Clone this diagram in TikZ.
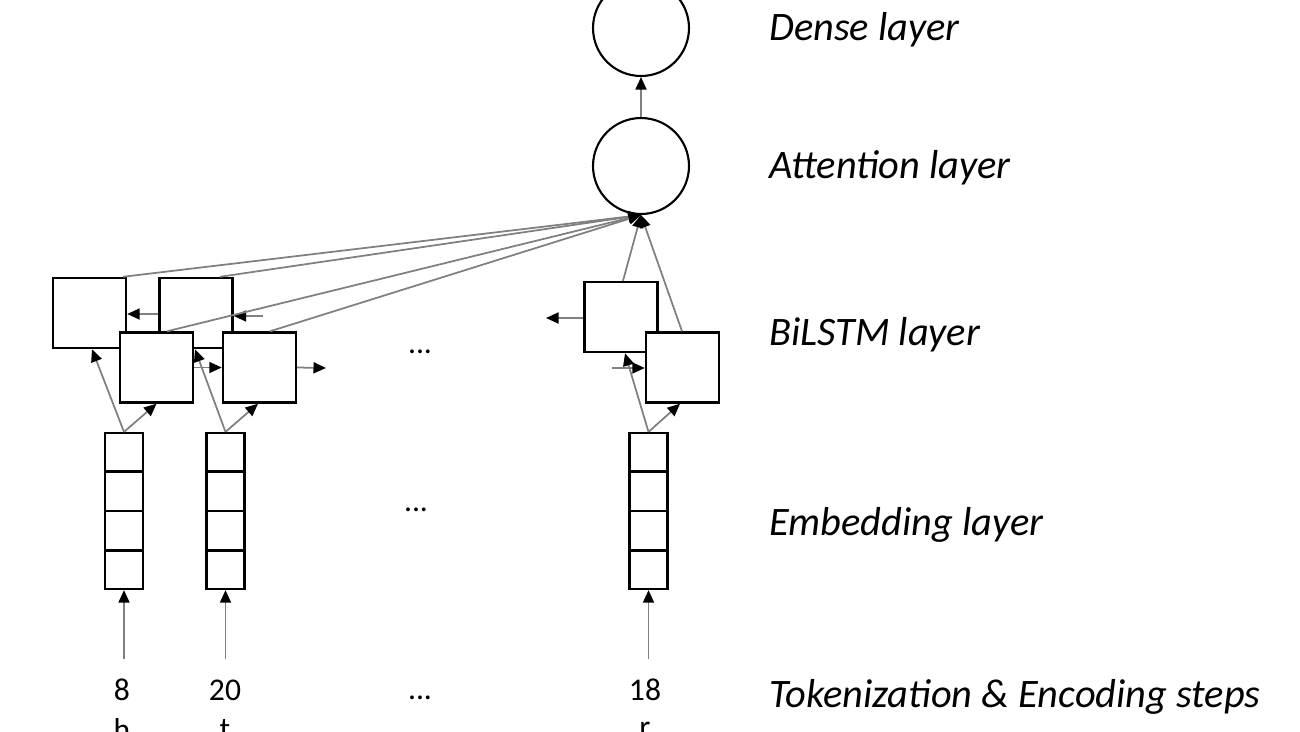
\documentclass[tikz,border=0pt]{standalone}
\usepackage{fontspec}
\setmainfont{Carlito}
\usetikzlibrary{calc,arrows.meta}
\newcommand{\cellh}{0.78cm}
% embedding column: name, x
\newcommand{\embcol}[2]{\node[embbox] (#1) at (#2,511) {};
    \foreach \k in {1,2,3} \draw[line width=1.3pt] ($(#1.north west)!\k/4!(#1.south west)$) -- ($(#1.north east)!\k/4!(#1.south east)$);}
\tikzset{
  cell/.style={draw=black,line width=1.4pt,fill=white,minimum width=1.46cm,minimum height=1.40cm,inner sep=0pt},
  embbox/.style={draw=black,line width=1.3pt,minimum width=0.76cm,minimum height=4*\cellh,inner sep=0pt},
  neuron/.style={circle,draw=black,line width=1.2pt,minimum size=1.92cm,inner sep=0pt},
  conn/.style={gray,line width=1pt,-{Triangle[length=2.5mm,width=2.2mm,black]}},
  layername/.style={anchor=west,font=\fontsize{23}{26}\selectfont\itshape},
  token/.style={font=\fontsize{18}{20}\selectfont}
}
\begin{document}
\begin{tikzpicture}[x=0.02cm,y=-0.02cm]
    \useasboundingbox (0,0) rectangle (1300,731);
    \clip (0,0) rectangle (1300,731);

    % dense and attention
    \node[neuron] (dense) at (641,28) {};
    \node[neuron] (att) at (641,166) {};
    \draw[conn] (att.north) -- (dense.south);

    % BiLSTM cells
    \node[cell] (bw1) at (89.5,313) {};
    \node[cell] (bw2) at (196,313) {};
    \node[cell] (fw1) at (156.5,367.5) {};
    \node[cell] (fw2) at (259.5,367.5) {};
    \node[cell] (bw3) at (621,317) {};
    \node[cell] (fw3) at (682.5,367.5) {};

    % recurrent arrows
    \coordinate (bwin) at (263,316);
    \coordinate (fwout) at (326,368);
    \coordinate (bwout) at (546,318);
    \coordinate (fwin) at (612,368);
    \draw[conn] (bw2.west |- 0,314) -- (bw1.east |- 0,314);
    \draw[conn] (bwin) -- (bw2.east |- bwin);
    \draw[conn] (fw1.east) -- (fw2.west);
    \draw[conn] (fw2.east) -- (fwout);
    \draw[conn] (bw3.west |- bwout) -- (bwout);
    \draw[conn] (fwin) -- (fw3.west |- fwin);

    % embedding columns
    \embcol{emb1}{124}
    \embcol{emb2}{225.5}
    \embcol{emb3}{648.5}

    \draw[conn] (emb1.north) -- (bw1.south -| 92,0);
    \draw[conn] (emb1.north) -- (fw1.south);
    \draw[conn] (emb2.north) -- (bw2.south -| 195,0);
    \draw[conn] (emb2.north) -- (fw2.south -| 258,0);
    \draw[conn] (emb3.north) -- (bw3.south -| 625,0);
    \draw[conn] (emb3.north) -- (fw3.south -| 680,0);

    % to attention
    \draw[conn] (bw1.north -| 123,0) -- (att.south);
    \draw[conn] (bw2.north -| 220,0) -- (att.south);
    \draw[conn] (fw1.north -| 167,0) -- (att.south);
    \draw[conn] (fw2.north -| 270,0) -- (att.south);
    \draw[conn] (bw3.north -| 623,0) -- (att.south);
    \draw[conn] (fw3.north -| 682,0) -- (att.south);

    % tokens
    \node[token] (tok1) at (122,690) {8};
    \node[token] (tok2) at (225,690) {20};
    \node[token] (tok3) at (645,690) {18};
    \node[token] (chr1) at (122,730) {h};
    \node[token] (chr2) at (225,730) {t};
    \node[token] (chr3) at (645,730) {r};
    \draw[conn] (emb1.south |- 0,659) -- (emb1.south);
    \draw[conn] (emb2.south |- 0,659) -- (emb2.south);
    \draw[conn] (emb3.south |- 0,659) -- (emb3.south);

    % dots
    \node[token] (dots1) at (420,352) {...};
    \node[token] (dots2) at (416,510) {...};
    \node[token] (dots3) at (420,698) {...};

    % layer names
    \node[layername] (lab1) at (763,30) {Dense layer};
    \node[layername] (lab2) at (763,168) {Attention layer};
    \node[layername] (lab3) at (763,335) {BiLSTM layer};
    \node[layername] (lab4) at (763,525) {Embedding layer};
    \node[layername] (lab5) at (763,697) {Tokenization \& Encoding steps};
\end{tikzpicture}
\end{document}
